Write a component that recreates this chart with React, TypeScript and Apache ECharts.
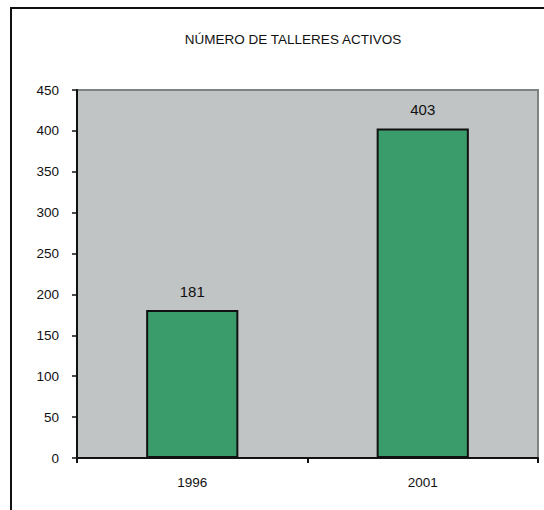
import React, { useEffect, useRef } from "react";
import * as echarts from "echarts";

const categories = ["1996", "2001"];
const values = [181, 403];
const titleText = "NÚMERO DE TALLERES ACTIVOS";

const FONT = "Liberation Sans, Arial, sans-serif";

export default function App() {
  const ref = useRef<HTMLDivElement>(null);
  useEffect(() => {
    document.body.style.margin = "0";
    const chart = echarts.init(ref.current!, null, { renderer: "svg" });
    chart.setOption({
      animation: false,
      backgroundColor: "#ffffff",
      title: {
        text: titleText,
        left: 288,
        top: 27,
        textAlign: "center",
        textStyle: { fontFamily: FONT, fontSize: 13.5, fontWeight: "normal", color: "#111" },
      },
      graphic: [
        { type: "line", shape: { x1: 11, y1: 8, x2: 11, y2: 520 }, style: { stroke: "#111", lineWidth: 2 } },
        { type: "line", shape: { x1: 10, y1: 8, x2: 560, y2: 8 }, style: { stroke: "#111", lineWidth: 2 } },
      ],
      grid: {
        left: 77,
        top: 90,
        right: 6,
        bottom: 52,
        show: true,
        backgroundColor: "#C0C4C4",
        borderColor: "#7f8282",
        borderWidth: 2,
      },
      xAxis: {
        type: "category",
        data: categories,
        boundaryGap: true,
        axisLine: { lineStyle: { color: "#111", width: 2 } },
        axisTick: { show: true, length: 5, lineStyle: { color: "#111", width: 2 } },
        axisLabel: { fontFamily: FONT, fontSize: 13.5, color: "#111", margin: 17 },
      },
      yAxis: {
        type: "value",
        min: 0,
        max: 450,
        interval: 50,
        axisLine: { show: true, lineStyle: { color: "#111", width: 2 } },
        axisTick: { show: true, length: 5, lineStyle: { color: "#111", width: 1.5 } },
        axisLabel: { fontFamily: FONT, fontSize: 13.5, color: "#111", margin: 18 },
        splitLine: { show: false },
      },
      series: [
        {
          type: "bar",
          data: values,
          barWidth: "40%",
          itemStyle: { color: "#3A9C6B", borderColor: "#111", borderWidth: 2 },
          label: {
            show: true,
            position: "top",
            distance: 11,
            fontFamily: FONT,
            fontSize: 15,
            color: "#111",
          },
        },
      ],
    });
    return () => chart.dispose();
  }, []);
  return <div ref={ref} style={{ width: 544, height: 510, position: "absolute", left: 0, top: 0 }} />;
}
